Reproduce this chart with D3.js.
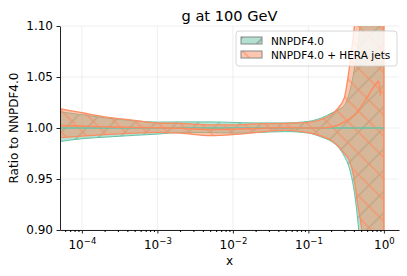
<!DOCTYPE html>
<html>
<head>
<meta charset="utf-8">
<script src="https://cdn.jsdelivr.net/npm/d3@7"></script>
<style>
  body { margin: 0; background: #fff; }
  text { font-family: "DejaVu Sans", sans-serif; }
</style>
</head>
<body>
<div id="chart"></div>
<script>
// x grid and band values
var xs = [5e-5, 1e-4, 2e-4, 5e-4, 1e-3, 2e-3, 5e-3, 1e-2, 2e-2, 5e-2, 0.1, 0.15, 0.2, 0.25, 0.3, 0.35, 0.4, 0.45, 0.5, 0.6, 0.7, 0.8, 0.85, 0.9, 1.0];

var nnCv = [1, 1, 1, 1, 1, 1, 1, 1, 1, 1, 1, 1, 1, 1, 1, 1, 1, 1, 1, 1, 1, 1, 1, 1, 1];
var nnUp = [1.016, 1.013, 1.010, 1.007, 1.0058, 1.006, 1.006, 1.0055, 1.005, 1.005, 1.0065, 1.010, 1.0145, 1.018, 1.022, 1.035, 1.055, 1.08, 1.11, 1.16, 1.2, 1.24, 1.26, 1.28, 1.35];
var nnLo = [0.9866, 0.9895, 0.991, 0.9928, 0.994, 0.9955, 0.9955, 0.995, 0.9955, 0.9965, 0.995, 0.991, 0.987, 0.981, 0.972, 0.960, 0.94, 0.91, 0.87, 0.8, 0.75, 0.7, 0.68, 0.65, 0.5];

var hjCv = [1.0023, 1.0018, 1.0012, 1.0005, 1.0002, 0.9998, 0.9985, 0.999, 0.9995, 1.0005, 1.0, 1.0, 1.001, 1.003, 1.006, 1.009, 1.012, 1.016, 1.021, 1.03, 1.038, 1.044, 1.046, 1.032, null];
var hjUp = [1.019, 1.015, 1.011, 1.0075, 1.0048, 1.0045, 1.003, 1.003, 1.004, 1.0046, 1.0055, 1.0085, 1.013, 1.02, 1.03, 1.06, 1.095, 1.13, 1.17, 1.25, 1.3, 1.35, 1.38, 1.4, 1.5];
var hjLo = [0.9905, 0.992, 0.9935, 0.995, 0.9958, 0.995, 0.9925, 0.9935, 0.9955, 0.998, 0.9955, 0.992, 0.988, 0.982, 0.975, 0.968, 0.952, 0.925, 0.905, 0.86, 0.8, 0.72, 0.68, 0.62, 0.5];

var labels = ["NNPDF4.0", "NNPDF4.0 + HERA jets"];
var yTicks = [0.90, 0.95, 1.00, 1.05, 1.10];
var xMajors = [1e-4, 1e-3, 1e-2, 1e-1, 1];

var green = "#66c2a5", orange = "#fc8d62";

var W = 407, H = 276;
var margin = {top: 26, right: 8, bottom: 46, left: 60},
    width = W - margin.left - margin.right,
    height = H - margin.top - margin.bottom;

var svg = d3.select("#chart").append("svg")
    .attr("width", W).attr("height", H);

var defs = svg.append("defs");
defs.append("clipPath").attr("id", "clip")
    .append("rect").attr("width", width).attr("height", height);

function hatch(id, angle, color, sw) {
    var p = defs.append("pattern").attr("id", id)
        .attr("patternUnits", "userSpaceOnUse")
        .attr("width", 15).attr("height", 15)
        .attr("patternTransform", "rotate(" + angle + ")");
    p.append("line").attr("x1", 1).attr("x2", 1).attr("y1", 0).attr("y2", 15)
        .attr("stroke", color).attr("stroke-width", sw);
}
hatch("hGreen", 45, "#5fae92", 0.9);
hatch("hOrange", -45, orange, 1.1);
hatch("hGreenLeg", 45, "#777", 0.9);

var g = svg.append("g")
    .attr("transform", "translate(" + margin.left + "," + margin.top + ")");

var x = d3.scaleLog().domain([Math.pow(10, -4.29), Math.pow(10, 0.2)]).range([0, width]);
var y = d3.scaleLinear().domain([0.9, 1.1]).range([height, 0]);

// grid
g.append("g").selectAll("line").data(xMajors).join("line")
    .attr("x1", d => x(d)).attr("x2", d => x(d))
    .attr("y1", 0).attr("y2", height)
    .attr("stroke", "#ebebeb").attr("stroke-width", 0.8);
g.append("g").selectAll("line").data(yTicks).join("line")
    .attr("x1", 0).attr("x2", width)
    .attr("y1", d => y(d)).attr("y2", d => y(d))
    .attr("stroke", "#ebebeb").attr("stroke-width", 0.8);

var idx = d3.range(xs.length);
var area = function(lo, up) {
    return d3.area().curve(d3.curveMonotoneX)
        .x(i => x(xs[i])).y0(i => y(lo[i])).y1(i => y(up[i]));
};
var line = function(v) {
    return d3.line().curve(d3.curveMonotoneX)
        .defined(i => v[i] !== null)
        .x(i => x(xs[i])).y(i => y(v[i]));
};

var plot = g.append("g").attr("clip-path", "url(#clip)");

function band(lo, up, color, hid, sw) {
    plot.append("path").datum(idx).attr("d", area(lo, up))
        .attr("fill", color).attr("fill-opacity", 0.5);
    plot.append("path").datum(idx).attr("d", area(lo, up))
        .attr("fill", "url(#" + hid + ")");
    plot.append("path").datum(idx).attr("d", line(up))
        .attr("fill", "none").attr("stroke", color).attr("stroke-width", sw);
    plot.append("path").datum(idx).attr("d", line(lo))
        .attr("fill", "none").attr("stroke", color).attr("stroke-width", sw);
}
band(nnLo, nnUp, green, "hGreen", 1);
band(hjLo, hjUp, orange, "hOrange", 1.3);
// right edge of the HERA band at x = 1
plot.append("line")
    .attr("x1", x(xs[xs.length - 1])).attr("x2", x(xs[xs.length - 1]))
    .attr("y1", y(hjLo[xs.length - 1])).attr("y2", y(hjUp[xs.length - 1]))
    .attr("stroke", orange).attr("stroke-width", 1.6);

plot.append("path").datum(idx).attr("d", line(nnCv))
    .attr("fill", "none").attr("stroke", green).attr("stroke-width", 1.6);
plot.append("path").datum(idx).attr("d", line(hjCv))
    .attr("fill", "none").attr("stroke", orange).attr("stroke-width", 1.6);

// axes
var yAxis = g.append("g")
    .call(d3.axisLeft(y).tickValues(yTicks).tickFormat(d3.format(".2f")).tickSize(3.5).tickSizeOuter(0));
var xAxis = g.append("g").attr("transform", "translate(0," + height + ")")
    .call(d3.axisBottom(x).tickValues(xMajors).tickFormat("").tickSize(3.5).tickSizeOuter(0));
var minors = [];
[-5, -4, -3, -2, -1, 0].forEach(function(e) {
    for (var k = 2; k <= 9; k++) {
        var v = k * Math.pow(10, e);
        if (v > x.domain()[0] && v < x.domain()[1]) minors.push(v);
    }
});
g.append("g").attr("transform", "translate(0," + height + ")")
    .call(d3.axisBottom(x).tickValues(minors).tickFormat("").tickSize(2).tickSizeOuter(0))
    .call(a => a.select(".domain").remove());

[xAxis, yAxis].forEach(function(a) {
    a.select(".domain").attr("stroke", "#222").attr("stroke-width", 1);
    a.selectAll(".tick line").attr("stroke", "#222");
    a.selectAll("text").attr("font-size", 12).attr("fill", "#000")
        .style("font-family", "'DejaVu Sans', sans-serif");
});
yAxis.selectAll("text").attr("x", -7);

xAxis.selectAll(".tick").append("text")
    .attr("y", 19).attr("text-anchor", "middle").attr("fill", "#000")
    .attr("font-size", 12)
    .each(function(d) {
        var t = d3.select(this);
        t.append("tspan").text("10");
        t.append("tspan").attr("dy", -5).attr("font-size", 8.5)
            .text(Math.round(Math.log10(d)) === 0 ? "0" : "\u2212" + Math.abs(Math.round(Math.log10(d))));
    });

// labels
svg.append("text").attr("x", margin.left + width / 2).attr("y", 21)
    .attr("text-anchor", "middle").attr("font-size", 14.6).text("g at 100 GeV");
svg.append("text").attr("x", margin.left + width / 2).attr("y", 265)
    .attr("text-anchor", "middle").attr("font-size", 12).text("x");
svg.append("text").attr("transform", "translate(18," + (margin.top + height / 2) + ") rotate(-90)")
    .attr("text-anchor", "middle").attr("font-size", 12).text("Ratio to NNPDF4.0");

// legend
var leg = svg.append("g").attr("transform", "translate(236,31)");
leg.append("rect").attr("width", 161).attr("height", 35).attr("rx", 3)
    .attr("fill", "#fff").attr("fill-opacity", 0.8).attr("stroke", "#ccc").attr("stroke-width", 0.8);
var legItems = [
    {label: labels[0], color: green, hatch: "hGreenLeg"},
    {label: labels[1], color: orange, hatch: "hOrange"}
];
legItems.forEach(function(d, i) {
    var row = leg.append("g").attr("transform", "translate(5," + (6 + i * 14) + ")");
    row.append("rect").attr("width", 21).attr("height", 7)
        .attr("fill", d.color).attr("fill-opacity", 0.5);
    row.append("rect").attr("width", 21).attr("height", 7)
        .attr("fill", "url(#" + d.hatch + ")").attr("stroke", "#888").attr("stroke-width", 1);
    row.append("text").attr("x", 30).attr("y", 7.5).attr("font-size", 10.5).text(d.label);
});
</script>
</body>
</html>
